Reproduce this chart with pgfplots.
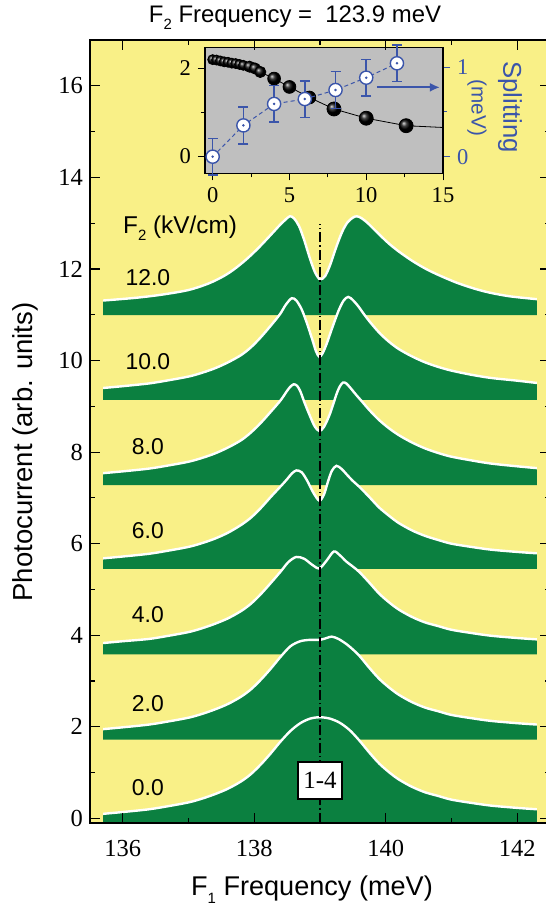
\documentclass[border=0pt]{standalone}
\usepackage{fontspec}
\setmainfont{Liberation Sans}
\newfontfamily\tnr{Liberation Serif}
\usepackage{pgfplots}
\pgfplotsset{compat=1.18}
\usepackage{pgfplotstable}
\usepgfplotslibrary{fillbetween}
\usetikzlibrary{arrows.meta}
\definecolor{bgyellow}{RGB}{249,240,135}
\definecolor{pgreen}{RGB}{11,128,64}
\definecolor{insetgray}{RGB}{191,191,191}
\definecolor{sblue}{RGB}{59,85,170}
\newcommand\fs[1]{\fontsize{#1}{#1}\selectfont}
\newcommand\sub[1]{\raisebox{-0.55ex}{\fontsize{7.5}{7.5}\selectfont #1}}

\pgfplotstableread{
x r
135.7 0.23
136.0 0.27
136.4 0.33
136.7 0.40
137.0 0.48
137.2 0.56
137.4 0.66
137.6 0.78
137.8 0.94
137.95 1.10
138.1 1.31
138.25 1.55
138.4 1.81
138.55 2.04
138.7 2.21
138.85 2.31
139.0 2.34
139.15 2.31
139.3 2.22
139.45 2.06
139.6 1.83
139.75 1.57
139.9 1.33
140.05 1.14
140.2 0.98
140.4 0.82
140.6 0.70
140.8 0.62
141.0 0.54
141.3 0.47
141.6 0.41
142.0 0.36
142.3 0.33
}\cZero

\pgfplotstableread{
x r
135.7 0.23
136.0 0.27
136.4 0.33
136.7 0.40
137.0 0.48
137.2 0.56
137.4 0.66
137.6 0.78
137.8 0.94
137.95 1.10
138.1 1.31
138.25 1.55
138.4 1.81
138.55 2.04
138.7 2.15
138.85 2.18
139.0 2.18
139.1 2.22
139.18 2.25
139.28 2.20
139.4 2.09
139.5 1.97
139.6 1.83
139.75 1.57
139.9 1.33
140.05 1.14
140.2 0.98
140.4 0.82
140.6 0.70
140.8 0.62
141.0 0.54
141.3 0.47
141.6 0.41
142.0 0.36
142.3 0.33
}\cTwo

\pgfplotstableread{
x r
135.7 0.25
136.0 0.29
136.4 0.34
136.7 0.41
137.0 0.49
137.2 0.57
137.4 0.67
137.6 0.79
137.8 0.95
137.95 1.11
138.1 1.32
138.25 1.56
138.4 1.81
138.52 2.02
138.64 2.13
138.76 2.09
138.88 1.96
138.99 1.88
139.1 2.05
139.21 2.25
139.3 2.17
139.4 2.03
139.5 1.92
139.6 1.80
139.75 1.57
139.9 1.33
140.05 1.14
140.2 0.98
140.4 0.82
140.6 0.70
140.8 0.62
141.0 0.54
141.3 0.47
141.6 0.41
142.0 0.36
142.3 0.33
}\cFour

\pgfplotstableread{
x r
135.7 0.23
136.0 0.27
136.4 0.33
136.7 0.40
137.0 0.48
137.2 0.56
137.4 0.66
137.6 0.79
137.8 0.96
137.95 1.12
138.1 1.33
138.25 1.57
138.4 1.80
138.5 1.96
138.57 2.08
138.64 2.15
138.72 2.11
138.8 1.94
138.9 1.66
138.99 1.49
139.06 1.62
139.12 1.90
139.18 2.14
139.25 2.25
139.33 2.18
139.42 2.04
139.5 1.92
139.6 1.79
139.75 1.57
139.9 1.34
140.05 1.16
140.2 1.00
140.4 0.84
140.6 0.72
140.8 0.63
141.0 0.55
141.3 0.48
141.6 0.42
142.0 0.37
142.3 0.34
}\cSix

\pgfplotstableread{
x r
135.7 0.26
136.0 0.30
136.4 0.36
136.7 0.43
137.0 0.51
137.2 0.59
137.4 0.69
137.6 0.82
137.8 0.98
137.95 1.15
138.1 1.36
138.25 1.60
138.4 1.85
138.5 2.06
138.55 2.15
138.6 2.20
138.65 2.17
138.7 2.05
138.77 1.78
138.85 1.50
138.92 1.28
138.99 1.18
139.06 1.27
139.15 1.55
139.25 1.98
139.3 2.15
139.35 2.24
139.4 2.22
139.47 2.11
139.55 1.97
139.63 1.84
139.75 1.64
139.9 1.42
140.05 1.24
140.2 1.09
140.4 0.93
140.6 0.80
140.8 0.70
141.0 0.62
141.3 0.54
141.6 0.47
142.0 0.41
142.3 0.37
}\cEight

\pgfplotstableread{
x r
135.7 0.26
136.0 0.30
136.4 0.36
136.7 0.43
137.0 0.51
137.2 0.59
137.4 0.69
137.6 0.82
137.8 0.98
137.95 1.15
138.1 1.37
138.25 1.62
138.39 1.87
138.48 2.08
138.57 2.22
138.64 2.17
138.72 1.98
138.8 1.68
138.88 1.33
138.94 1.06
138.99 0.94
139.04 1.02
139.1 1.22
139.18 1.55
139.28 1.94
139.36 2.17
139.43 2.25
139.5 2.18
139.58 2.05
139.66 1.89
139.75 1.72
139.9 1.47
140.05 1.27
140.2 1.11
140.4 0.95
140.6 0.82
140.8 0.72
141.0 0.64
141.3 0.55
141.6 0.48
142.0 0.42
142.3 0.37
}\cTen

\pgfplotstableread{
x r
135.7 0.32
136.2 0.38
136.6 0.45
137.0 0.55
137.3 0.69
137.53 0.85
137.7 1.01
137.88 1.22
138.05 1.45
138.19 1.66
138.3 1.83
138.39 1.97
138.47 2.08
138.54 2.16
138.6 2.12
138.68 1.95
138.76 1.64
138.84 1.27
138.92 0.95
139.0 0.78
139.08 0.86
139.16 1.12
139.25 1.50
139.34 1.83
139.42 2.03
139.5 2.13
139.56 2.16
139.63 2.12
139.72 2.02
139.82 1.88
139.94 1.71
140.06 1.55
140.2 1.39
140.4 1.19
140.6 1.02
140.8 0.88
141.08 0.71
141.35 0.58
141.59 0.49
141.9 0.41
142.3 0.35
}\cTwelve

\newcommand\band[3]{%
  \addplot[draw=none, smooth, name path=c#3] table[x=x, y expr=\thisrow{r}+(#2)] {#1};
  \addplot[draw=none, name path=b#3] coordinates {(135.7,#2) (142.3,#2)};
  \addplot[fill=pgreen, draw=none] fill between[of=c#3 and b#3];
  \addplot[white, line width=1.2bp, smooth] table[x=x, y expr=\thisrow{r}+(#2)] {#1};
}

\begin{document}
\begin{tikzpicture}
\begin{axis}[name=main, at={(0,0)}, anchor=south west, scale only axis,
  width=230bp, height=391.5bp,
  xmin=135.5, xmax=142.5, ymin=-0.1, ymax=17,
  axis background/.style={fill=bgyellow},
  axis on top,
  xtick={136,138,140,142}, minor xtick={137,139,141},
  ytick={0,2,...,16}, minor ytick={1,3,...,15},
  tick align=inside, major tick length=5bp, minor tick length=2.5bp,
  every tick/.style={black, line width=0.6bp},
  axis line style={line width=1bp},
  /pgf/number format/assume math mode=true,
  tick label style={font=\tnr\fs{12.3}},
  xticklabel style={yshift=-5bp},
]
\band{\cTwelve}{10.99}{l}
\band{\cTen}{9.14}{k}
\band{\cEight}{7.28}{h}
\band{\cSix}{5.45}{f}
\band{\cFour}{3.58}{d}
\band{\cTwo}{1.72}{b}
\band{\cZero}{-0.13}{a}
\addplot[black, line width=0.6bp, dash pattern=on 5bp off 1.5bp on 0.8bp off 1.5bp] coordinates {(139,-0.1) (139,12.98)};
\node[draw=black, line width=0.6bp, fill=white, minimum width=22bp, minimum height=18.5bp, inner sep=0pt, font=\tnr\fs{12.5}] at (axis cs:139,0.83) {1-4};
\node[font=\fs{11.5}] at (axis cs:136.38,11.80) {12.0};
\node[font=\fs{11.5}] at (axis cs:136.38,9.97) {10.0};
\node[font=\fs{11.5}] at (axis cs:136.38,8.13) {8.0};
\node[font=\fs{11.5}] at (axis cs:136.38,6.28) {6.0};
\node[font=\fs{11.5}] at (axis cs:136.38,4.45) {4.0};
\node[font=\fs{11.5}] at (axis cs:136.38,2.51) {2.0};
\node[font=\fs{11.5}] at (axis cs:136.38,0.68) {0.0};
\node[font=\fs{12.2}] at (axis cs:136.87,12.89) {F\sub{2} (kV/cm)};
\end{axis}

\begin{axis}[at={(57.5bp,324.85bp)}, anchor=south west, scale only axis,
  width=119bp, height=63bp,
  xmin=-0.5, xmax=15, ymin=-0.38, ymax=2.48,
  axis background/.style={fill=insetgray},
  xtick={0,5,10,15}, minor xtick={2.5,7.5,12.5},
  ytick={0,2}, minor ytick={1},
  xtick pos=bottom, ytick pos=left,
  tick align=outside, major tick length=3.5bp, minor tick length=2bp,
  every tick/.style={black, line width=0.5bp},
  axis line style={line width=0.6bp},
  /pgf/number format/assume math mode=true,
  tick label style={font=\tnr\fs{11.3}},
  clip=false,
]
\addplot[black, line width=0.4bp] coordinates {(0,2.20) (0.5,2.17) (1.0,2.14) (1.5,2.11) (2.0,2.07) (2.4,2.04) (2.75,2.00) (3.1,1.92) (4.0,1.77) (5.0,1.58) (6.3,1.34) (7.9,1.08) (10.0,0.87) (12.6,0.70) (15,0.66)};
\addplot[only marks, mark=ball, mark size=2.5bp, mark options={ball color=black}] coordinates {(0,2.20) (0.25,2.19) (0.5,2.17) (0.75,2.15) (1.0,2.14) (1.25,2.12) (1.5,2.11) (1.75,2.09) (2.0,2.07)};
\addplot[only marks, mark=ball, mark size=2.8bp, mark options={ball color=black}] coordinates {(2.4,2.04) (2.75,2.00) (3.1,1.92)};
\addplot[only marks, mark=ball, mark size=3.2bp, mark options={ball color=black}] coordinates {(4.0,1.77) (5.0,1.58) (6.3,1.34)};
\addplot[only marks, mark=ball, mark size=3.5bp, mark options={ball color=black}] coordinates {(7.9,1.08) (10.0,0.87) (12.6,0.70)};
\end{axis}

\begin{axis}[at={(57.5bp,324.85bp)}, anchor=south west, scale only axis,
  width=119bp, height=63bp,
  xmin=-0.5, xmax=15, ymin=-0.186, ymax=1.224,
  axis x line=none, axis y line*=right,
  ytick={0,1}, minor ytick={0.5},
  tick align=outside, major tick length=3.5bp, minor tick length=2bp,
  every tick/.style={sblue, line width=0.5bp},
  axis line style={line width=0.6bp, black},
  /pgf/number format/assume math mode=true,
  tick label style={font=\tnr\fs{11.3}, text=sblue},
  clip=false,
]
\addplot[sblue, only marks, mark=none,
  error bars/.cd, y dir=both, y explicit,
  error bar style={line width=0.8bp, sblue},
  error mark options={rotate=90, mark size=2.5bp, line width=0.8bp, sblue}]
  table[x=x, y=y, y error=e] {
x y e
0 0 0.205
2 0.35 0.205
4 0.59 0.205
6 0.645 0.205
8 0.746 0.205
10 0.884 0.205
12 1.045 0.205
};
\addplot[sblue, line width=0.5bp, dash pattern=on 2bp off 1.5bp, mark=*, mark size=3.3bp,
  mark options={solid, fill=white, draw=sblue, line width=0.7bp}]
  coordinates {(0,0) (2,0.35) (4,0.59) (6,0.645) (8,0.746) (10,0.884) (12,1.045)};
\addplot[sblue, only marks, mark=*, mark size=0.4bp]
  coordinates {(0,0) (2,0.35) (4,0.59) (6,0.645) (8,0.746) (10,0.884) (12,1.045)};
\draw[sblue, line width=1bp, -{Latex[length=5bp,width=4.5bp]}] (axis cs:10.7,0.776) -- (axis cs:14.8,0.776);
\end{axis}

\node[font=\fs{12}] at (102.5bp,402.5bp) {F\sub{2} Frequency =\ \ 123.9 meV};
\node[font=\fs{13.8}, rotate=90] at (-32.5bp,185.5bp) {Photocurrent (arb. units)};
\node[font=\fs{13.6}] at (111bp,-33.5bp) {F\sub{1} Frequency (meV)};
\node[font=\fs{12.9}, text=sblue, rotate=-90] at (210bp,358bp) {Splitting};
\node[font=\fs{10.4}, text=sblue, rotate=-90] at (193.5bp,357.5bp) {(meV)};

\pgfresetboundingbox
\useasboundingbox (-45bp,-41.5bp) rectangle (228bp,411.5bp);
\end{tikzpicture}
\end{document}
